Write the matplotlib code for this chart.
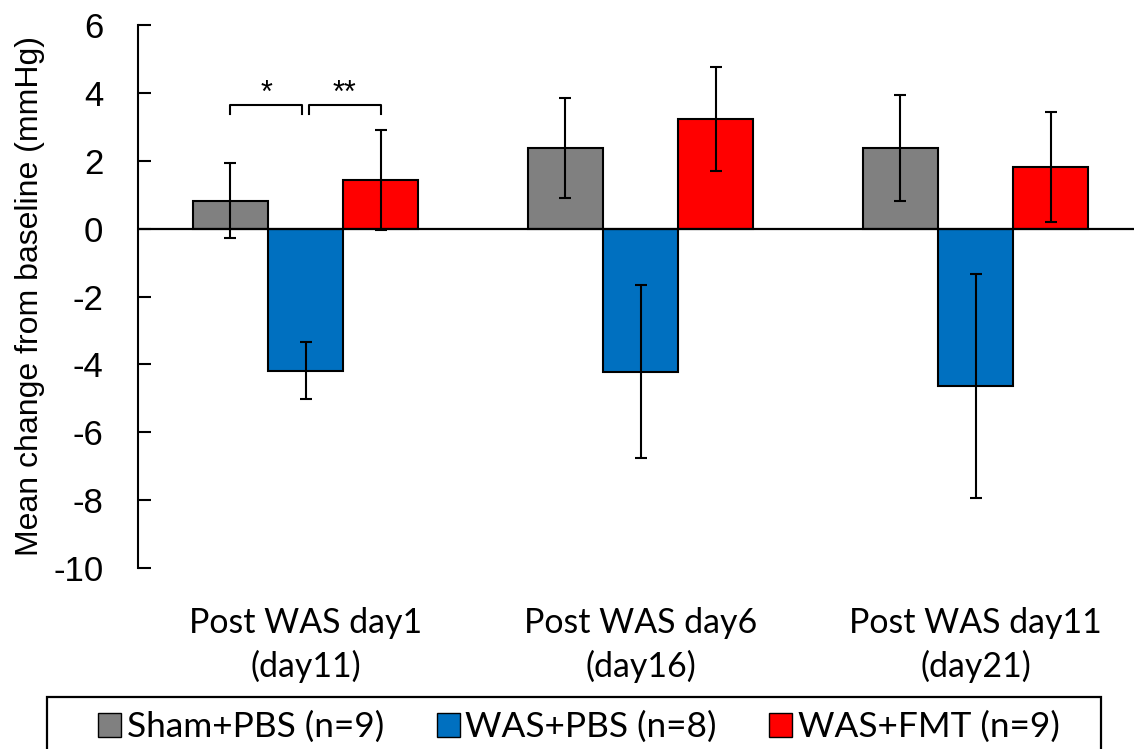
"""
Mean change from baseline per group at three post-WAS timepoints,
grouped bars with SEM error bars and significance brackets.
"""
import matplotlib
matplotlib.use("Agg")
import matplotlib.pyplot as plt
import numpy as np
from matplotlib.patches import Patch, Rectangle

# --- data ---
timepoints = ["Post WAS day1\n(day11)", "Post WAS day6\n(day16)", "Post WAS day11\n(day21)"]
groups = ["Sham+PBS (n=9)", "WAS+PBS (n=8)", "WAS+FMT (n=9)"]
sham_mean = [0.82, 2.38, 2.38]
sham_err = [1.10, 1.47, 1.57]
was_pbs_mean = [-4.19, -4.21, -4.65]
was_pbs_err = [0.84, 2.54, 3.30]
was_fmt_mean = [1.43, 3.23, 1.82]
was_fmt_err = [1.48, 1.54, 1.63]
colors = ["#808080", "#0070C0", "#FF0000"]

# significance: (group a, group b, label) at the first timepoint
sig_pairs = [(0, 1, "*"), (1, 2, "**")]
sig_y = 3.65

ARIAL = "Liberation Sans"
CALIBRI = "Lato"
plt.rcParams["axes.unicode_minus"] = False

fig = plt.figure(figsize=(11.34, 7.49), dpi=100)
ax = fig.add_axes([138 / 1134, 181 / 749, 1005 / 1134, 543 / 749])

x = np.arange(len(timepoints))
width = 0.224
means = [sham_mean, was_pbs_mean, was_fmt_mean]
errs = [sham_err, was_pbs_err, was_fmt_err]

for i, (m, e, c) in enumerate(zip(means, errs, colors)):
    pos = x + (i - 1) * width
    ax.bar(pos, m, width, color=c, edgecolor="black", linewidth=1.5, zorder=2)
    ax.errorbar(pos, m, yerr=e, fmt="none", ecolor="black", elinewidth=1.5,
                capsize=4, capthick=1.5, zorder=3)

ax.axhline(0, color="black", linewidth=1.6, zorder=4)

# significance brackets
for a, b, label in sig_pairs:
    xa = x[0] + (a - 1) * width + (0.01 if a == 1 else 0)
    xb = x[0] + (b - 1) * width - (0.01 if b == 1 else 0)
    ax.plot([xa, xa, xb, xb], [sig_y - 0.27, sig_y, sig_y, sig_y - 0.27],
            color="black", linewidth=1.5, clip_on=False)
    ax.text((xa + xb) / 2, sig_y + 0.08, label, ha="center", va="baseline",
            fontsize=22, family=ARIAL)

ax.set_xlim(-0.5, 2.5)
ax.set_ylim(-10, 6)
ax.set_yticks(np.arange(-10, 7, 2))
ax.set_xticks(x)
ax.set_xticklabels(timepoints, family=CALIBRI, fontsize=24.4, linespacing=1.4)
ax.tick_params(axis="x", length=0, pad=28)
ax.tick_params(axis="y", direction="in", length=9, width=1.5, pad=25,
               labelsize=25)
for lbl in ax.get_yticklabels():
    lbl.set_family(ARIAL)

for side in ("top", "right", "bottom"):
    ax.spines[side].set_visible(False)
ax.spines["left"].set_linewidth(1.5)

ax.set_ylabel("Mean change from baseline (mmHg)", family=ARIAL, fontsize=23)
ax.yaxis.set_label_coords(-0.0925, 0.5)

# legend box runs off the bottom edge, as in the source figure
fig.patches.append(Rectangle((47 / 1134, -0.05), 1054 / 1134, 0.05 + 52 / 749,
                             transform=fig.transFigure, facecolor="white",
                             edgecolor="black", linewidth=1.6, zorder=0))
handles = [Patch(facecolor=c, edgecolor="black", linewidth=1.0) for c in colors]
leg = fig.legend(handles, groups, loc="center",
                 bbox_to_anchor=(579 / 1134, 1 - 727 / 749), ncol=3,
                 prop={"family": CALIBRI, "size": 25.4}, frameon=False,
                 handlelength=0.65, handleheight=0.65, handletextpad=0.15,
                 columnspacing=1.5, borderpad=0, borderaxespad=0)

fig.savefig("out.png", dpi=100)
